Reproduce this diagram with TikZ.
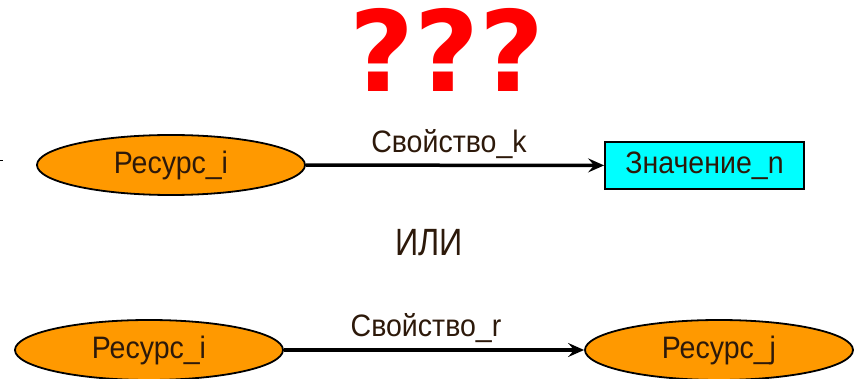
\documentclass[tikz,border=0pt]{standalone}
\usepackage{fontspec}
\setmainfont{Liberation Sans}
\newfontfamily\qmarkfont{DejaVu Sans}
\newfontfamily\diagfont[FakeStretch=0.92]{Liberation Sans}
\usepackage{xcolor}
\usetikzlibrary{shapes.geometric,arrows.meta,positioning}
\definecolor{resorange}{RGB}{255,153,0}
\definecolor{valcyan}{RGB}{0,255,255}
\definecolor{txtdark}{RGB}{45,25,10}
\tikzset{
  resource/.style={ellipse, draw=black, line width=1.8pt, fill=resorange,
    minimum width=268pt, minimum height=60pt, inner sep=0pt,
    font=\diagfont\fontsize{31}{36}\selectfont, text=txtdark},
  value/.style={rectangle, draw=black, line width=1.8pt, fill=valcyan,
    minimum width=199pt, minimum height=47pt, inner sep=0pt,
    font=\diagfont\fontsize{31}{36}\selectfont, text=txtdark},
  prop/.style={line width=3.5pt, -{Stealth[length=16pt,width=14pt,inset=6pt]}},
  proplabel/.style={font=\diagfont\fontsize{31}{36}\selectfont, text=txtdark}
}

\begin{document}
\begin{tikzpicture}[x=1pt,y=-1pt]
    \useasboundingbox (0,0) rectangle (854,379);

    % Title
    \node[text=red, font=\qmarkfont\bfseries\fontsize{112}{112}\selectfont] (qmarks) at (447,50) {???};

    % Resource -> value
    \coordinate (edgeA) at (0,161);
    \coordinate (edgeB) at (3,161);
    \draw[line width=1pt] (edgeA) -- (edgeB);
    \node[resource] (resI) at (171,165) {Ресурс\_i};
    \node[value] (valN) at (704.5,165.5) {Значение\_n};
    \draw[prop] (resI) -- (valN) node[midway, above=2pt, xshift=-6pt, proplabel] {Свойство\_k};

    % Or
    \node[font=\fontsize{38}{42}\selectfont\addfontfeature{FakeStretch=0.85}, text=txtdark] (orword) at (429,243) {ИЛИ};

    % Resource -> resource
    \node[resource] (resIb) at (149,350) {Ресурс\_i};
    \node[resource] (resJ) at (719,350) {Ресурс\_j};
    \draw[prop] (resIb) -- (resJ) node[midway, above=2pt, xshift=-8pt, proplabel] {Свойство\_r};
\end{tikzpicture}
\end{document}
